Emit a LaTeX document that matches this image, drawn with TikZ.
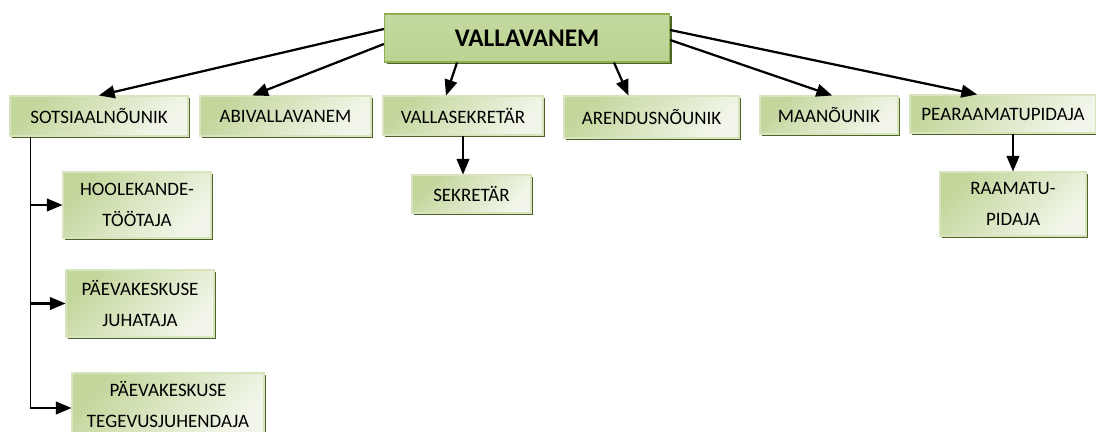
\documentclass[tikz,border=0pt]{standalone}
\usepackage{fontspec}
\setmainfont{Carlito}
\usepackage{tikz}
\usetikzlibrary{calc, shapes, arrows, shadows}
\definecolor{boxedge}{HTML}{D7E4BD}
\definecolor{boxdark}{HTML}{C3D69B}
\definecolor{boxlight}{HTML}{F2F6EA}
\definecolor{headtop}{HTML}{C4D9A0}
\definecolor{headmid}{HTML}{9BBB59}
\definecolor{headedge}{HTML}{8FB050}
\definecolor{shade}{HTML}{4F6228}

\begin{document}
\begin{tikzpicture}[x=0.025cm,y=-0.025cm]
\tikzstyle{unit}=[rectangle,draw=boxedge,line width=0.8pt,top color=boxdark,bottom color=boxlight,shading angle=45,
  drop shadow={shadow xshift=1.6pt,shadow yshift=-1.6pt,fill=shade,opacity=1},
  align=center,inner sep=2pt,font=\fontsize{13.5}{22}\selectfont]
\tikzstyle{head}=[rectangle,draw=headedge,line width=0.8pt,top color=headtop,middle color=headmid,bottom color=headtop!80!headmid,
  drop shadow={shadow xshift=1.6pt,shadow yshift=-1.6pt,fill=shade,opacity=1},
  font=\fontsize{18}{20}\selectfont\bfseries]
\tikzstyle{arr}=[line width=1.6pt,-triangle 45]
\useasboundingbox (0,0) rectangle (1096,432);
% juht
\node[head,minimum width=7.125cm,minimum height=1.2cm] (vallavanem) at (527,38) {VALLAVANEM};
% esimene rida
\node[unit,minimum width=4.45cm,minimum height=1cm] (sots) at (99,116) {SOTSIAALNÕUNIK};
\node[unit,minimum width=4.275cm,minimum height=1cm] (abi) at (285.5,116) {ABIVALLAVANEM};
\node[unit,minimum width=4cm,minimum height=0.975cm] (vsek) at (463,115.5) {VALLASEKRETÄR};
\node[unit,minimum width=4.375cm,minimum height=1.05cm] (aren) at (651.5,117) {ARENDUSNÕUNIK};
\node[unit,minimum width=3.45cm,minimum height=0.95cm] (maa) at (829,115) {MAANÕUNIK};
\node[unit,minimum width=4.65cm,minimum height=0.95cm] (pea) at (1003,114) {PEARAAMATUPIDAJA};
% alluvad
\node[unit,minimum width=2.975cm,minimum height=0.95cm] (sek) at (471.5,194) {SEKRETÄR};
\node[unit,minimum width=3.65cm,minimum height=1.6cm] (raam) at (1013,204) {RAAMATU-\\PIDAJA};
\node[unit,minimum width=3.7cm,minimum height=1.65cm] (hool) at (137,205) {HOOLEKANDE-\\TÖÖTAJA};
\node[unit,minimum width=3.7cm,minimum height=1.675cm] (pjuh) at (140,303.5) {PÄEVAKESKUSE\\JUHATAJA};
\node[unit,minimum width=4.8cm,minimum height=1.55cm] (pteg) at (168,404) {PÄEVAKESKUSE\\TEGEVUSJUHENDAJA};
% nooled
\draw[arr] ($(vallavanem.west)+(0,-9)$) -- (sots.north);
\draw[arr] ($(vallavanem.west)+(0,6)$) -- ($(abi.north)+(-33,0)$);
\draw[arr] ($(vallavanem.south)+(-70,0)$) -- ($(vsek.north)+(-17,0)$);
\draw[arr] ($(vallavanem.south)+(87,0)$) -- ($(aren.north)+(-23,0)$);
\draw[arr] ($(vallavanem.east)+(0,2)$) -- ($(maa.north)+(3,0)$);
\draw[arr] ($(vallavanem.east)+(0,-8)$) -- ($(pea.north)+(-26,0)$);
\draw[arr] (vsek.south) -- (vsek.south |- sek.north);
\draw[arr] (raam.north |- pea.south) -- (raam.north);
\coordinate (trunk) at ($(sots.south west)+(21,0)$);
\draw[line width=1pt] (trunk) -- (trunk |- 0,408);
\draw[arr] (hool.west -| trunk) -- (hool.west);
\draw[arr] (pjuh.west -| trunk) -- (pjuh.west);
\draw[arr] ($(pteg.west -| trunk)+(0,4)$) -- ($(pteg.west)+(0,4)$);
\end{tikzpicture}
\end{document}
